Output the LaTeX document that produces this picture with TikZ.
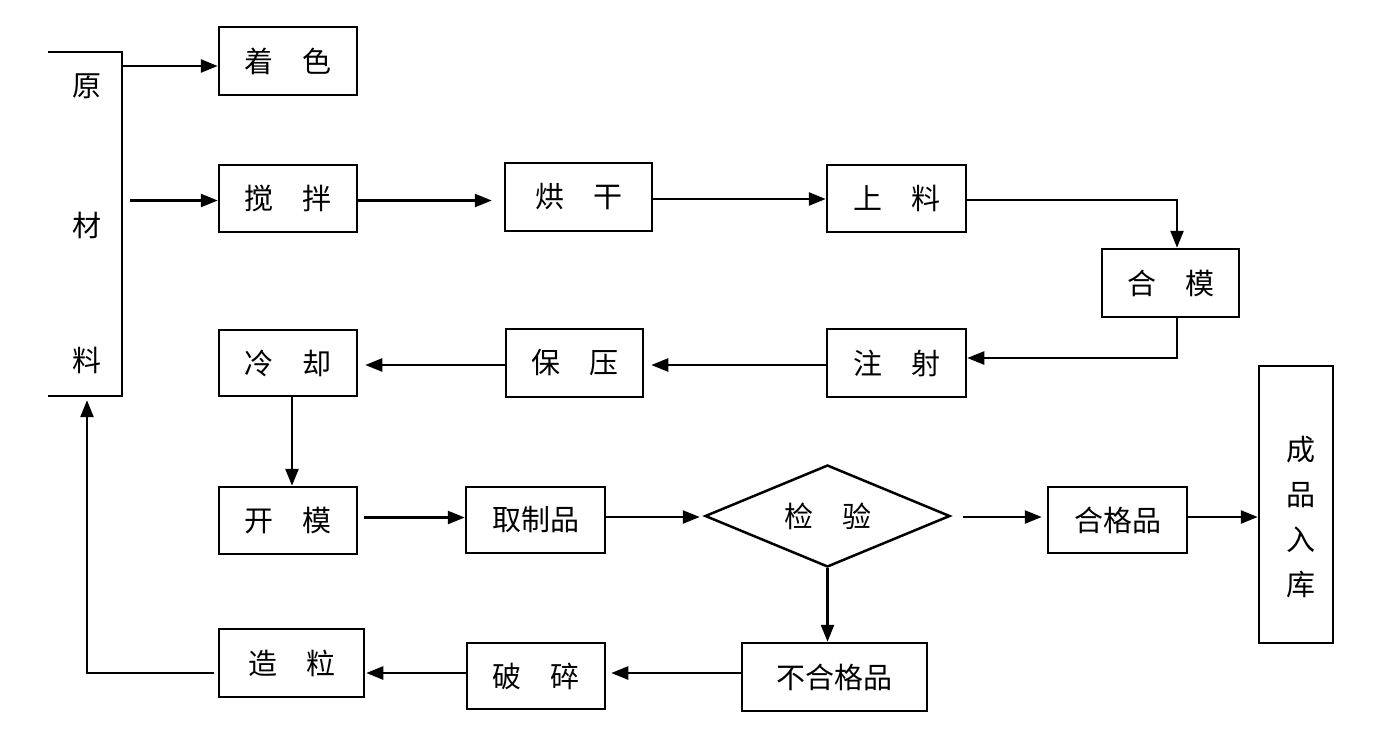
\documentclass[tikz,border=0pt]{standalone}
\usepackage{fontspec}
\newfontfamily\cjk{Noto Sans CJK SC}
\usetikzlibrary{arrows.meta,shapes.geometric}
\begin{document}
\begin{tikzpicture}[x=1pt,y=-1pt,
  every node/.style={font=\cjk\fontsize{29}{34}\selectfont},
  box/.style={draw,line width=2.5pt,rectangle,inner sep=0pt},
  arr/.style={line width=2.5pt,-{Triangle[length=17pt,width=13pt]}},
  ln/.style={line width=2.5pt}]
\useasboundingbox (0,0) rectangle (1388,750);
% open box for raw material
\node[minimum width=74pt,minimum height=344pt,inner sep=0pt] (ycl) at (85,224) {};
\draw[ln] (ycl.north west) -- (ycl.north east) -- (ycl.south east) -- (ycl.south west);
\node (yuan) at (87,86) {原};
\node (cai) at (87,225) {材};
\node (liao) at (87,360) {料};
% boxes
\node[box,minimum width=138pt,minimum height=68pt] (zhuose) at (288,61) {着　色};
\node[box,minimum width=138pt,minimum height=67pt] (jiaoban) at (288,198.5) {搅　拌};
\node[box,minimum width=147pt,minimum height=68pt] (honggan) at (578.5,197) {烘　干};
\node[box,minimum width=139pt,minimum height=67pt] (shangliao) at (896.5,198.5) {上　料};
\node[box,minimum width=137pt,minimum height=68pt] (hemo) at (1170.5,283) {合　模};
\node[box,minimum width=139pt,minimum height=68pt] (zhushe) at (896.5,363) {注　射};
\node[box,minimum width=137pt,minimum height=68pt] (baoya) at (574.5,363) {保　压};
\node[box,minimum width=138pt,minimum height=66pt] (lengque) at (288,363) {冷　却};
\node[box,minimum width=138pt,minimum height=67pt] (kaimo) at (288,520.5) {开　模};
\node[box,minimum width=139pt,minimum height=66pt] (quzhipin) at (535.5,520) {取制品};
\node[draw,line width=2.5pt,diamond,aspect=2.4,inner sep=0pt,minimum width=245pt,minimum height=102pt] (jianyan) at (827.5,516) {检　验};
\node[box,minimum width=139pt,minimum height=66pt] (hegepin) at (1117.5,520) {合格品};
\node[box,minimum width=74pt,minimum height=277pt] (chengpin) at (1296,504.5) {};
\node[align=center,inner sep=0pt,font=\cjk\fontsize{29}{45}\selectfont] (chengpintext) at (1301,517) {成\\品\\入\\库};
\node[box,minimum width=185pt,minimum height=68pt] (buhege) at (834.5,677) {不合格品};
\node[box,minimum width=138pt,minimum height=66pt] (posui) at (536,676) {破　碎};
\node[box,minimum width=145pt,minimum height=68pt] (zaoli) at (291.5,663) {造　粒};
% connectors
\draw[arr] ([yshift=-5pt]zhuose.west -| ycl.east) -- ([yshift=-5pt]zhuose.west);
\draw[arr,shorten <=8pt] ([yshift=-2pt]jiaoban.west -| ycl.east) -- ([yshift=-2pt]jiaoban.west);
\draw[arr,shorten >=12pt] ([yshift=-2pt]jiaoban.east) -- ([yshift=-2pt]jiaoban.east -| honggan.west);
\draw[arr] ([yshift=-2pt]honggan.east -| honggan.east) -- ([yshift=-2pt]honggan.east -| shangliao.west);
\draw[arr] ([yshift=-1.5pt]shangliao.east) -| ([xshift=6.5pt]hemo.north);
\draw[arr] ([xshift=6.5pt]hemo.south) |- ([yshift=5pt]zhushe.east);
\draw[arr,shorten >=7pt] ([yshift=-2pt]zhushe.west) -- ([yshift=-2pt]zhushe.west -| baoya.east);
\draw[arr,shorten >=7pt] ([yshift=-2pt]baoya.west) -- ([yshift=-2pt]baoya.west -| lengque.east);
\draw[arr] ([xshift=4pt]lengque.south) -- ([xshift=4pt]lengque.south |- kaimo.north);
\draw[arr,shorten <=6pt] ([yshift=3pt]kaimo.east) -- ([yshift=3pt]kaimo.east -| quzhipin.west);
\draw[arr,shorten >=4pt] ([yshift=3pt]quzhipin.east) -- ([yshift=3pt]quzhipin.east -| jianyan.west);
\draw[arr,shorten <=12pt,shorten >=5pt] ([yshift=-1pt]jianyan.east) -- ([yshift=-1pt]jianyan.east -| hegepin.west);
\draw[arr] ([yshift=3pt]hegepin.east) -- ([yshift=3pt]hegepin.east -| chengpin.west);
\draw[arr] (jianyan.south) -- (jianyan.south |- buhege.north);
\draw[arr,shorten >=5pt] ([yshift=4pt]buhege.west) -- ([yshift=4pt]buhege.west -| posui.east);
\draw[arr,shorten >=1pt] ([yshift=3pt]posui.west) -- ([yshift=3pt]posui.west -| zaoli.east);
\draw[arr,shorten <=4pt,shorten >=4pt] ([yshift=-10pt]zaoli.west) -| ([xshift=2pt]ycl.south);
\end{tikzpicture}
\end{document}
